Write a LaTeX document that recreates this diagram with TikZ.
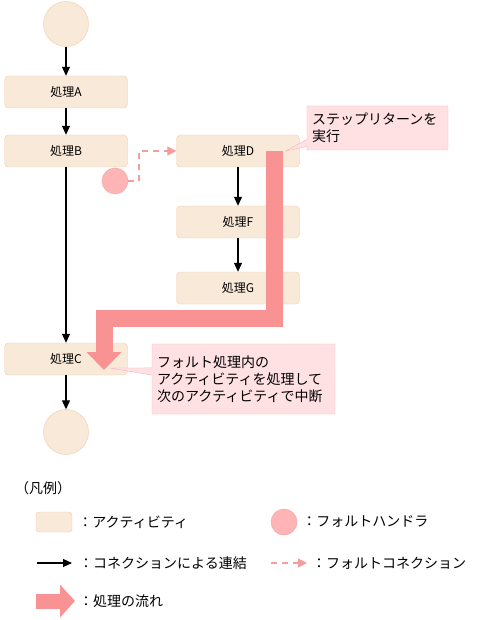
\documentclass[tikz,border=0pt]{standalone}
\usepackage{fontspec}
\setmainfont{Noto Sans CJK JP}
\usetikzlibrary{arrows.meta, positioning, calc, shapes.callouts}

\definecolor{actfill}{HTML}{F9E9D9}
\definecolor{actborder}{HTML}{EFCDAA}
\definecolor{faultfill}{HTML}{FFB5B5}
\definecolor{faultborder}{HTML}{F59C9C}
\definecolor{flowcol}{HTML}{F99292}
\definecolor{notefill}{HTML}{FFE1E4}
\definecolor{noteborder}{HTML}{FCB2BC}

\begin{document}
\begin{tikzpicture}[
    x=1pt, y=-1pt,
    activity/.style={rectangle, draw=actborder, fill=actfill, rounded corners=4pt, minimum width=123pt, minimum height=32pt, inner sep=0pt, font=\fontsize{12}{14}\selectfont},
    startend/.style={circle, draw=actborder, fill=actfill, minimum size=45pt, inner sep=0pt},
    handler/.style={circle, draw=faultborder, fill=faultfill, minimum size=26pt, inner sep=0pt},
    conn/.style={line width=1.1pt, -{Triangle[length=9pt,width=8pt]}},
    faultconn/.style={faultborder, line width=1.2pt, dash pattern=on 6pt off 5pt, -{Triangle[length=9pt,width=9pt]}},
    flow/.style={flowcol, line width=17pt, -{Triangle[length=18pt,width=34pt]}},
    note/.style={rectangle callout, draw=noteborder, fill=notefill, align=left, inner sep=5pt, font=\fontsize{14}{17}\selectfont},
    legtext/.style={anchor=west, inner sep=0pt, font=\fontsize{14}{16}\selectfont}
]
\useasboundingbox (0,0) rectangle (488,620);

% Main flow
\node[startend] (start) at (66,24) {};
\node[activity] (a) at (66,92) {処理A};
\node[activity] (b) at (66,151) {処理B};
\node[activity] (c) at (66,359) {処理C};
\node[startend] (end) at (66,432) {};

% Fault handler branch
\node[handler] (fh) at (115,181) {};
\node[activity] (d) at (238,151) {処理D};
\node[activity] (f) at (238,222) {処理F};
\node[activity] (g) at (238,288) {処理G};

% Connections
\draw[conn] (start) -- (a);
\draw[conn] (a) -- (b);
\draw[conn] (b) -- (c);
\draw[conn] (c) -- (end);
\draw[conn] (d) -- (f);
\draw[conn] (f) -- (g);
\draw[faultconn] (fh) -- ++(24,0) |- (d);

% Flow of processing
\coordinate (flowstart) at ($(d.center)+(36.5,0)$);
\coordinate (flowend) at (104,370);
\draw[flow] (flowstart) -- ++(0,167) -| (flowend);

% Notes
\node[note, minimum width=141pt, minimum height=44pt, text width=131pt,
      callout absolute pointer={($(d.east)+(-14,0)$)}] (note1) at (377.5,128)
      {ステップリターンを\\実行};
\node[note, minimum width=183pt, minimum height=70pt, text width=173pt,
      callout absolute pointer={($(c.east)+(-18,9)$)}] (note2) at (243.5,379)
      {フォルト処理内の\\アクティビティを処理して\\次のアクティビティで中断};

% Legend
\node[legtext] (legtitle) at (15,488) {（凡例）};
\node[activity, minimum width=36pt, minimum height=20pt, rounded corners=3pt] (lgact) at (54,522) {};
\node[legtext, right=6pt of lgact] {：アクティビティ};
\node[handler] (lgfh) at (284,522) {};
\node[legtext, right=5pt of lgfh] {：フォルトハンドラ};
\coordinate (lgconA) at (37,563);
\coordinate (lgconB) at (72,563);
\draw[conn] (lgconA) -- (lgconB);
\node[legtext] at (79,563) {：コネクションによる連結};
\coordinate (lgfcA) at (271,563);
\coordinate (lgfcB) at (307,563);
\draw[faultconn] (lgfcA) -- (lgfcB);
\node[legtext] at (312,563) {：フォルトコネクション};
\coordinate (lgflowA) at (36,601);
\coordinate (lgflowB) at (75,601);
\draw[flow, line width=15pt, -{Triangle[length=15pt,width=32pt]}] (lgflowA) -- (lgflowB);
\node[legtext] at (79,601) {：処理の流れ};

\end{tikzpicture}
\end{document}
